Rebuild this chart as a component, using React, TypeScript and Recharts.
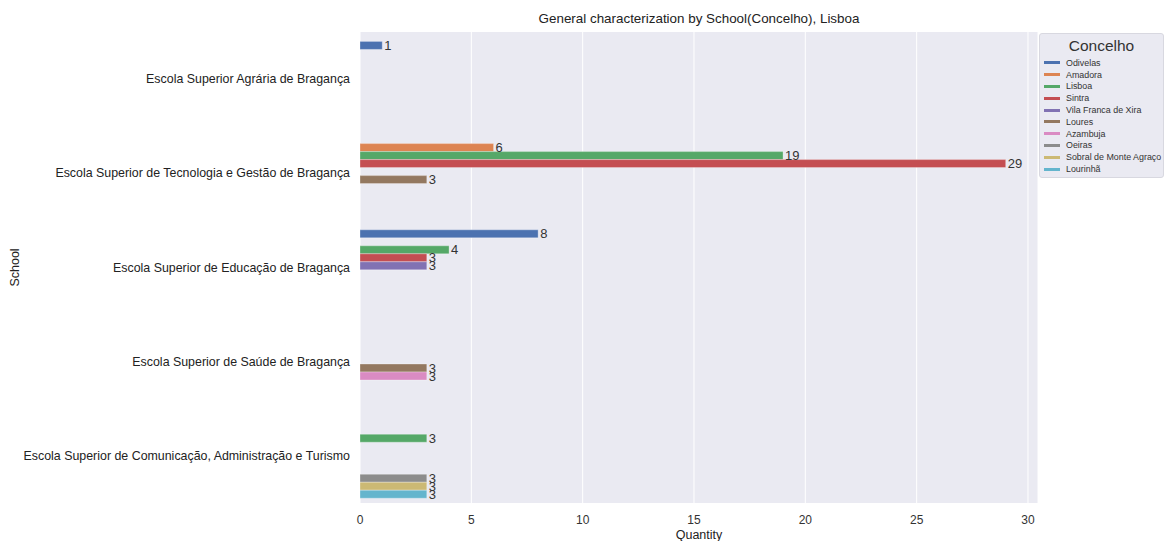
import React from 'react';
import { BarChart, Bar, XAxis, YAxis, CartesianGrid, LabelList, Label } from 'recharts';

// ── data ─────────────────────────────────────────────
const schools = [
  'Escola Superior Agrária de Bragança',
  'Escola Superior de Tecnologia e Gestão de Bragança',
  'Escola Superior de Educação de Bragança',
  'Escola Superior de Saúde de Bragança',
  'Escola Superior de Comunicação, Administração e Turismo',
];

const concelhos = [
  'Odivelas', 'Amadora', 'Lisboa', 'Sintra', 'Vila Franca de Xira',
  'Loures', 'Azambuja', 'Oeiras', 'Sobral de Monte Agraço', 'Lourinhã',
];

const odivelas   = [1, null, 8, null, null];
const amadora    = [null, 6, null, null, null];
const lisboa     = [null, 19, 4, null, 3];
const sintra     = [null, 29, 3, null, null];
const vilaFranca = [null, null, 3, null, null];
const loures     = [null, 3, null, 3, null];
const azambuja   = [null, null, null, 3, null];
const oeiras     = [null, null, null, null, 3];
const sobral     = [null, null, null, null, 3];
const lourinha   = [null, null, null, null, 3];

const series = [odivelas, amadora, lisboa, sintra, vilaFranca, loures, azambuja, oeiras, sobral, lourinha];

const xTicks = [0, 5, 10, 15, 20, 25, 30];

// seaborn "deep"
const COLORS = ['#4C72B0', '#DD8452', '#55A868', '#C44E52', '#8172B3', '#937860', '#DA8BC3', '#8C8C8C', '#CCB974', '#64B5CD'];

const data = schools.map((school, i) => {
  const row: Record<string, string | number | null> = { school };
  concelhos.forEach((c, j) => { row[c] = series[j][i]; });
  return row;
});

const FONT = '"Liberation Sans", Arial, sans-serif';

// single-line category tick (no wrapping)
function SchoolTick({ x, y, payload }: any) {
  return (
    <text x={x} y={y} dy={4} textAnchor="end" fill="#222" fontSize={12.4} fontFamily={FONT}>
      {payload.value}
    </text>
  );
}

export default function App() {
  return (
    <div style={{ position: 'absolute', left: 0, top: 0, width: 1166, height: 541, background: '#fff', fontFamily: FONT }}>
      <div style={{ position: 'absolute', left: 360, width: 678, top: 11, textAlign: 'center', fontSize: 13.4, color: '#222' }}>
        General characterization by School(Concelho), Lisboa
      </div>
      <BarChart
        width={1166}
        height={541}
        data={data}
        layout="vertical"
        margin={{ top: 32, right: 128, bottom: 0, left: 0 }}
        barCategoryGap="10%"
        barGap={0}
        style={{ fontFamily: FONT }}
      >
        <CartesianGrid horizontal={false} stroke="#ffffff" strokeWidth={1} fill="#EAEAF2" fillOpacity={1} />
        <XAxis
          type="number"
          domain={[0, 30.45]}
          ticks={xTicks}
          height={38}
          axisLine={false}
          tickLine={false}
          tickSize={0}
          tickMargin={12}
          tick={{ fill: '#333', fontSize: 12 }}
        >
          <Label value="Quantity" position="insideBottom" offset={2} style={{ fill: '#222', fontSize: 12.5 }} />
        </XAxis>
        <YAxis
          type="category"
          dataKey="school"
          width={360}
          axisLine={false}
          tickLine={false}
          tickSize={0}
          tickMargin={10}
          tick={<SchoolTick />}
        >
          <Label value="School" angle={-90} position="insideLeft" offset={15} style={{ fill: '#222', fontSize: 12.5, textAnchor: 'middle' }} />
        </YAxis>
        {concelhos.map((c, j) => (
          <Bar key={c} dataKey={c} fill={COLORS[j]} stroke="#ffffff" strokeOpacity={0.5} strokeWidth={0.6} isAnimationActive={false}>
            <LabelList dataKey={c} position="right" offset={2} formatter={(v: any) => (v == null ? '' : v)} style={{ fill: '#333', fontSize: 13 }} />
          </Bar>
        ))}
      </BarChart>
      {/* legend */}
      <div style={{ position: 'absolute', left: 1039, top: 33, width: 125, height: 145, boxSizing: 'border-box', background: '#EAEAF2', border: '1px solid #d8d8e0', borderRadius: 3 }}>
        <div style={{ textAlign: 'center', fontSize: 15.5, color: '#333', marginTop: 3, lineHeight: '18px' }}>Concelho</div>
        <div style={{ marginTop: 2 }}>
          {concelhos.map((c, j) => (
            <div key={c} style={{ display: 'flex', alignItems: 'center', height: 11.8, fontSize: 8.9, color: '#333', whiteSpace: 'nowrap' }}>
              <span style={{ display: 'inline-block', width: 16, height: 3, background: COLORS[j], marginLeft: 4, marginRight: 6 }} />
              <span>{c}</span>
            </div>
          ))}
        </div>
      </div>
    </div>
  );
}
